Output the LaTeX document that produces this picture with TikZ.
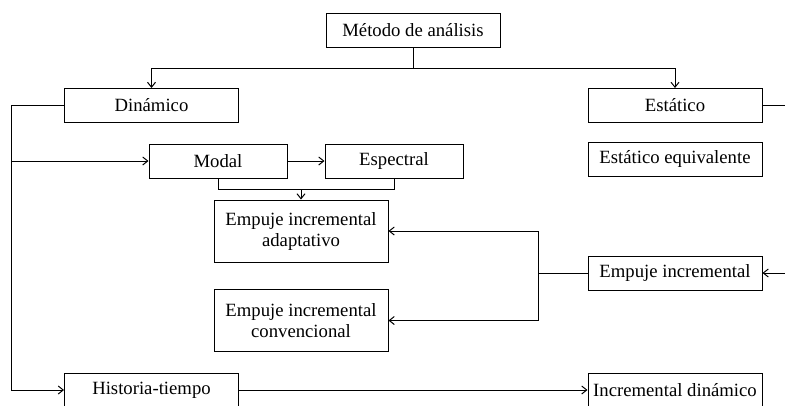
\documentclass[tikz,border=0pt]{standalone}
\usepackage{fontspec}
\setmainfont{Liberation Serif}
\usetikzlibrary{arrows.meta,positioning}
\tikzset{
  amnode/.style={rectangle,draw=black,line width=1pt,fill=white,
                 minimum width=174pt,minimum height=34pt,inner sep=0pt,
                 font=\fontsize{18.7}{21}\selectfont,align=center},
  amshort/.style={amnode,minimum width=138pt},
  amtall/.style={amnode,minimum height=62pt},
  amline/.style={line width=1pt},
  amarrow/.style={-{Straight Barb[length=5pt,width=8pt]},line width=1pt}
}
\begin{document}
\begin{tikzpicture}[x=1pt,y=-1pt]
    \clip (0,0) rectangle (785,405);
    \node[amnode] (metodo) at (413,30) {Método de análisis};
    \node[amnode] (dinamico) at (151.5,105.5) {Dinámico};
    \node[amnode] (estatico) at (675,105.5) {Estático};
    \node[amshort] (modal) at (218,161) {Modal};
    \node[amshort] (espectral) at (394,161) {Espectral};
    \node[amnode] (estequiv) at (675,159) {Estático equivalente};
    \node[amtall] (adaptativo) at (301,231)
      {Empuje incremental\\adaptativo};
    \node[amtall] (convencional) at (301,320.5)
      {Empuje incremental\\convencional};
    \node[amnode] (empuje) at (675,273) {Empuje incremental};
    \node[amnode] (historia) at (151.5,390) {Historia-tiempo};
    \node[amnode] (incdin) at (675,390) {Incremental dinámico};

    \coordinate (split) at (413,68);
    \coordinate (spine) at (11,105.5);
    \coordinate (join) at (301,189);
    \coordinate (fork) at (538,273);
    \coordinate (rightin) at (785,273);
    \coordinate (rightout) at (785,105.5);

    \draw[amline] (metodo.south) -- (split);
    \draw[amarrow] (split) -| (dinamico.north);
    \draw[amarrow] (split) -| (estatico.north);
    \draw[amline] (estatico.east) -- (rightout);
    \draw[amarrow] (dinamico.west) -- (spine) |- (historia.west);
    \draw[amarrow] (spine |- modal.west) -- (modal.west);
    \draw[amarrow] (modal) -- (espectral);
    \draw[amline] (modal.south) |- (espectral.south |- join)
      -- (espectral.south);
    \draw[amarrow] (join) -- (adaptativo.north);
    \draw[amarrow] (rightin) -- (empuje.east);
    \draw[amline] (empuje.west) -- (fork);
    \draw[amarrow] (fork) |- (adaptativo.east);
    \draw[amarrow] (fork) |- (convencional.east);
    \draw[amarrow] (historia) -- (incdin);
  \end{tikzpicture}
\end{document}
